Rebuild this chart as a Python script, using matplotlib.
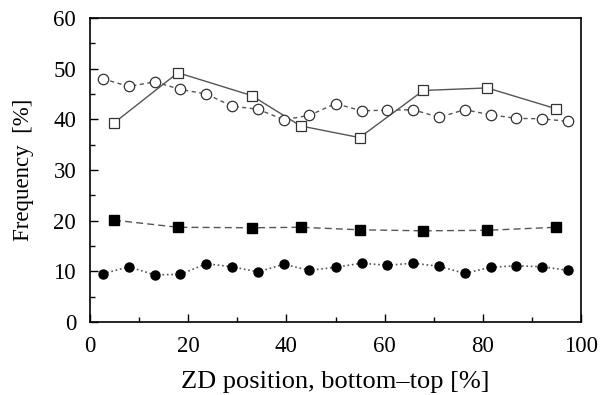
import matplotlib
matplotlib.use("Agg")
import matplotlib.pyplot as plt
from matplotlib.ticker import MultipleLocator

plt.rcParams['font.family'] = ['Liberation Serif', 'DejaVu Serif']

# Open circles (dashed)
x_oc = [2.6, 7.9, 13.2, 18.4, 23.7, 28.9, 34.2, 39.5, 44.7, 50.0, 55.3, 60.5, 65.8, 71.1, 76.3, 81.6, 86.8, 92.1, 97.4]
y_oc = [48.0, 46.5, 47.4, 45.9, 45.0, 42.6, 42.0, 39.9, 40.8, 43.1, 41.7, 41.8, 41.9, 40.4, 41.9, 40.9, 40.2, 40.1, 39.6]
# Filled circles (dotted)
y_fc = [9.5, 10.9, 9.3, 9.4, 11.5, 10.9, 9.9, 11.4, 10.2, 10.8, 11.6, 11.2, 11.6, 11.0, 9.6, 10.8, 11.1, 10.9, 10.2]
# Squares
x_sq = [4.9, 17.9, 32.9, 42.9, 54.9, 67.9, 80.9, 94.9]
y_os = [39.3, 49.2, 44.7, 38.7, 36.4, 45.7, 46.2, 42.1]
y_fs = [20.1, 18.7, 18.6, 18.7, 18.2, 18.0, 18.1, 18.7]

fig = plt.figure(figsize=(6.01, 3.95), dpi=100)
ax = fig.add_axes([0.1498, 0.1848, 0.8169, 0.7696])

lc = '#555555'
ax.plot(x_sq, y_os, '-', color=lc, lw=1.0, marker='s', ms=7.5, mfc='white', mec='#333333', mew=0.9)
ax.plot(x_oc, y_oc, '--', color=lc, lw=1.0, dashes=(3, 2.5), marker='o', ms=7.5, mfc='white', mec='#333333', mew=0.9)
ax.plot(x_sq, y_fs, '--', color=lc, lw=1.0, dashes=(5, 3), marker='s', ms=6.5, mfc='black', mec='black')
ax.plot(x_oc, y_fc, ':', color=lc, lw=1.2, marker='o', ms=6.5, mfc='black', mec='black')

ax.set_xlim(0, 100)
ax.set_ylim(0, 60)
ax.xaxis.set_major_locator(MultipleLocator(20))
ax.xaxis.set_minor_locator(MultipleLocator(10))
ax.yaxis.set_major_locator(MultipleLocator(10))
ax.yaxis.set_minor_locator(MultipleLocator(5))
ax.tick_params(which='both', direction='in', top=False, right=False, labelsize=16.5)
ax.tick_params(which='major', length=6, width=1)
ax.tick_params(which='minor', length=3.5, width=1)
ax.tick_params(axis='x', pad=10)
ax.tick_params(axis='y', pad=10)
for s in ax.spines.values():
    s.set_linewidth(1.2)

ax.set_xlabel('ZD position, bottom\u2013top [%]', fontsize=19, labelpad=10)
ax.set_ylabel('Frequency  [%]', fontsize=16.5, labelpad=14)

fig.savefig('out.png', dpi=100)
